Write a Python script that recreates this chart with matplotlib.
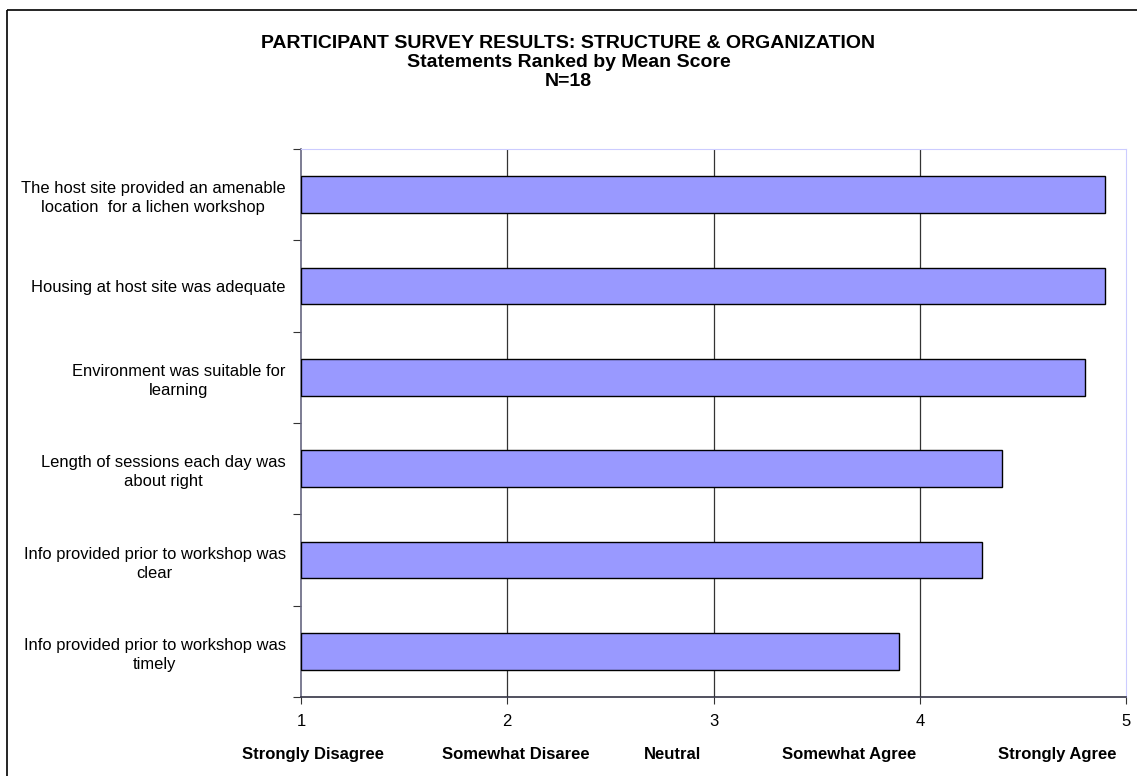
import matplotlib
matplotlib.use("Agg")
import matplotlib.pyplot as plt
from matplotlib.lines import Line2D
from matplotlib.transforms import blended_transform_factory
import numpy as np

plt.rcParams['font.family'] = ['Liberation Sans', 'DejaVu Sans']

statements = [
    "The host site provided an amenable\nlocation  for a lichen workshop",
    "Housing at host site was adequate",
    "Environment was suitable for\nlearning",
    "Length of sessions each day was\nabout right",
    "Info provided prior to workshop was\nclear",
    "Info provided prior to workshop was\ntimely",
]
mean_scores = [4.9, 4.9, 4.8, 4.4, 4.3, 3.9]
x_ticks = [1, 2, 3, 4, 5]
scale_labels = ["Strongly Disagree", "Somewhat Disaree", "Neutral",
                "Somewhat Agree", "Strongly Agree"]
scale_label_pos = [1.058, 2.04, 2.80, 3.657, 4.665]
title_lines = ["PARTICIPANT SURVEY RESULTS: STRUCTURE & ORGANIZATION",
               "Statements Ranked by Mean Score", "N=18"]

W, H = 1137, 776
fig = plt.figure(figsize=(W / 100, H / 100), dpi=100)
fig.patch.set_facecolor('white')

# outer border (only left and top edges visible in crop)
fig.add_artist(Line2D([7 / W, 7 / W], [0, 1 - 10 / H], transform=fig.transFigure,
                      color='black', linewidth=1.2, solid_capstyle='butt'))
fig.add_artist(Line2D([7 / W, 1.01], [1 - 10 / H, 1 - 10 / H], transform=fig.transFigure,
                      color='black', linewidth=1.2, solid_capstyle='butt'))

ax = fig.add_axes([301 / W, 1 - 697 / H, (1126 - 301) / W, (697 - 149) / H])

n = len(statements)
ypos = np.arange(n)[::-1] + 0.5  # first statement at top
ax.barh(ypos, [v - 1 for v in mean_scores], left=1, height=0.4,
        color='#9999FF', edgecolor='black', linewidth=1.0, zorder=3)

ax.set_xlim(1, 5)
ax.set_ylim(0, n)
ax.set_xticks(x_ticks)
ax.set_xticklabels([str(t) for t in x_ticks], fontsize=12)
ax.tick_params(axis='x', direction='out', length=5, width=0.8, pad=7,
               color='#333333')

ax.set_yticks(np.arange(n + 1))
ax.set_yticklabels([])
ax.set_yticks(ypos, minor=True)
ax.set_yticklabels(statements, minor=True, fontsize=11.9)
for lab in ax.get_yticklabels(minor=True):
    lab.set_multialignment('center')
    lab.set_linespacing(1.35)
ax.tick_params(axis='y', which='major', direction='out', length=6,
               width=0.8, color='#333333')
ax.tick_params(axis='y', which='minor', length=0, pad=11)

for t in x_ticks[1:-1]:
    ax.axvline(t, color='#333333', linewidth=0.9, zorder=1)

ax.spines['left'].set_color('#666680')
ax.spines['left'].set_linewidth(1.2)
ax.spines['bottom'].set_color('#333344')
ax.spines['bottom'].set_linewidth(1.2)
ax.spines['top'].set_color('#CCCCFF')
ax.spines['right'].set_color('#CCCCFF')

trans = blended_transform_factory(ax.transData, fig.transFigure)
for lab, pos in zip(scale_labels, scale_label_pos):
    ax.text(pos, 1 - 759 / H, lab, transform=trans, ha='center', va='baseline',
            fontsize=12, fontweight='bold')

for i, line in enumerate(title_lines):
    fig.text(0.5, 1 - (48 + 19 * i) / H, line, ha='center', va='baseline',
             fontsize=14, fontweight='bold')

fig.savefig('out.png', dpi=100, facecolor='white')
